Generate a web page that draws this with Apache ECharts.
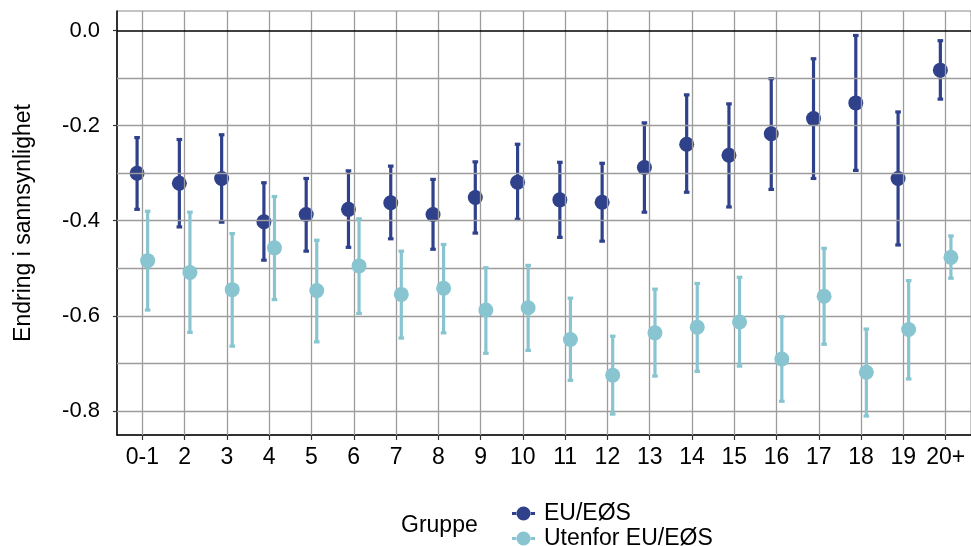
<!DOCTYPE html>
<html>
<head>
<meta charset="utf-8">
<script src="https://cdn.jsdelivr.net/npm/echarts@6/dist/echarts.min.js"></script>
<style>
html,body{margin:0;padding:0;background:#fff;}
#c{width:971px;height:546px;}
</style>
</head>
<body>
<div id="c"></div>
<script>
var categories = ['0-1','2','3','4','5','6','7','8','9','10','11','12','13','14','15','16','17','18','19','20+'];
var seriesNames = ['EU/EØS','Utenfor EU/EØS'];
var euEst  = [-0.300,-0.321,-0.311,-0.402,-0.387,-0.376,-0.362,-0.387,-0.351,-0.319,-0.356,-0.361,-0.288,-0.239,-0.262,-0.217,-0.185,-0.152,-0.311,-0.083];
var euLow  = [-0.376,-0.413,-0.403,-0.483,-0.464,-0.456,-0.438,-0.460,-0.426,-0.397,-0.435,-0.443,-0.382,-0.340,-0.371,-0.334,-0.311,-0.294,-0.451,-0.144];
var euHigh = [-0.225,-0.229,-0.219,-0.320,-0.311,-0.295,-0.285,-0.313,-0.276,-0.239,-0.277,-0.279,-0.194,-0.135,-0.154,-0.101,-0.059,-0.010,-0.171,-0.021];
var nonEuEst  = [-0.484,-0.509,-0.545,-0.457,-0.547,-0.495,-0.555,-0.542,-0.588,-0.583,-0.650,-0.725,-0.636,-0.624,-0.613,-0.691,-0.559,-0.719,-0.629,-0.477];
var nonEuLow  = [-0.588,-0.635,-0.664,-0.566,-0.655,-0.595,-0.647,-0.636,-0.679,-0.673,-0.736,-0.807,-0.727,-0.717,-0.706,-0.780,-0.660,-0.811,-0.733,-0.521];
var nonEuHigh = [-0.380,-0.382,-0.427,-0.349,-0.441,-0.396,-0.464,-0.450,-0.499,-0.494,-0.563,-0.643,-0.544,-0.532,-0.519,-0.602,-0.458,-0.628,-0.526,-0.432];
var yTickValues = [-0.8,-0.6,-0.4,-0.2,0.0];
var yGridValues = [-0.8,-0.7,-0.6,-0.5,-0.4,-0.3,-0.2,-0.1];

var DARK = '#2F418A', LIGHT = '#88C5D1';
var FONT = 'Liberation Sans, Arial, sans-serif';
var dodge = 0.125;
var catPos = categories.map(function(c,i){return i+1;});

function pts(est, off){ return est.map(function(v,i){return [i+1+off, v];}); }
function bars(lo, hi, off){ return lo.map(function(v,i){return [i+1+off, v, hi[i]];}); }

function renderBar(color){
  return function(params, api){
    var x = api.value(0);
    var p1 = api.coord([x, api.value(1)]);
    var p2 = api.coord([x, api.value(2)]);
    return {type:'group', children:[
      {type:'rect', shape:{x:p1[0]-1.6,y:p2[1],width:3.2,height:p1[1]-p2[1]}, style:{fill:color}},
      {type:'rect', shape:{x:p1[0]-2.8,y:p1[1]-1.6,width:5.6,height:3.2}, style:{fill:color}},
      {type:'rect', shape:{x:p2[0]-2.8,y:p2[1]-1.6,width:5.6,height:3.2}, style:{fill:color}}
    ]};
  };
}

var gridLineData = [];
catPos.forEach(function(v){ gridLineData.push({xAxis:v}); });
yGridValues.forEach(function(v){ gridLineData.push({yAxis:v}); });

var legendIcon = 'path://M0,5.5L5,5.5L5,8.5L0,8.5Z M18,5.5L23,5.5L23,8.5L18,8.5Z M4.5,7A7,7 0 1 0 18.5,7A7,7 0 1 0 4.5,7Z';
function legendFor(name, top){
  return {orient:'vertical', left:512, top:top, padding:0, itemGap:2,
    itemWidth:23, itemHeight:14,
    data:[{name:name, icon:legendIcon}],
    textStyle:{fontFamily:FONT, fontSize:23, color:'#000', padding:[0,0,0,4]}};
}

var chart = echarts.init(document.getElementById('c'), null, {renderer:'canvas'});
chart.setOption({
  animation:false,
  backgroundColor:'#fff',
  textStyle:{fontFamily:FONT},
  title:{text:'Gruppe', left:401, top:514, padding:0,
    textStyle:{fontFamily:FONT, fontSize:23, fontWeight:'normal', color:'#000'}},
  legend:[legendFor(seriesNames[0], 502), legendFor(seriesNames[1], 527)],
  grid:{left:117, right:-3, top:11, bottom:111, show:true, borderColor:'#8a8a8a', borderWidth:1, backgroundColor:'transparent'},
  xAxis:{type:'value', min:0.4, max:20.6,
    axisLine:{show:true, onZero:false, lineStyle:{color:'#000', width:1.5}},
    axisTick:{show:true, customValues:catPos, length:5, lineStyle:{color:'#333', width:1.2}},
    axisLabel:{customValues:catPos, margin:11, fontSize:23, color:'#000', fontFamily:FONT,
      formatter:function(v){return categories[Math.round(v)-1];}},
    splitLine:{show:false}},
  yAxis:{type:'value', min:-0.851, max:0.0415,
    name:'Endring i sannsynlighet', nameLocation:'middle', nameRotate:90, nameGap:82,
    nameTextStyle:{fontFamily:FONT, fontSize:23, color:'#000'},
    axisLine:{show:true, onZero:false, lineStyle:{color:'#000', width:1.5}},
    axisTick:{show:true, customValues:yTickValues, length:4, lineStyle:{color:'#333', width:1.2}},
    axisLabel:{customValues:yTickValues, margin:17, fontSize:22, color:'#000', fontFamily:FONT,
      formatter:function(v){return v.toFixed(1);}},
    splitLine:{show:false}},
  series:[
    {name:'grid', type:'scatter', data:[], z:1, silent:true,
      markLine:{silent:true, symbol:['none','none'], label:{show:false}, animation:false,
        lineStyle:{color:'#9c9c9c', width:1.3, type:'solid'}, data:gridLineData}},
    {name:'zero', type:'scatter', data:[], z:2, silent:true,
      markLine:{silent:true, symbol:['none','none'], label:{show:false}, animation:false,
        lineStyle:{color:'#000', width:1.5, type:'solid'}, data:[{yAxis:0}]}},
    {name:'EU/EØS CI', type:'custom', z:3, data:bars(euLow, euHigh, -dodge), renderItem:renderBar(DARK), itemStyle:{color:DARK}},
    {name:seriesNames[0], type:'scatter', z:4, data:pts(euEst, -dodge), symbolSize:15, itemStyle:{color:DARK, opacity:1}},
    {name:'Utenfor CI', type:'custom', z:5, data:bars(nonEuLow, nonEuHigh, dodge), renderItem:renderBar(LIGHT), itemStyle:{color:LIGHT}},
    {name:seriesNames[1], type:'scatter', z:6, data:pts(nonEuEst, dodge), symbolSize:15, itemStyle:{color:LIGHT, opacity:1}}
  ]
});
</script>
</body>
</html>
